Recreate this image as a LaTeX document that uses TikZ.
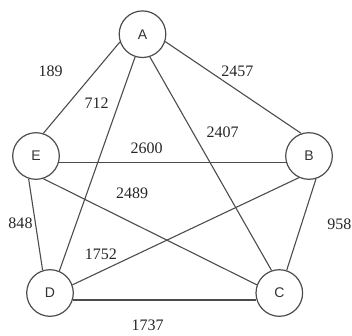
\documentclass[tikz,border=0pt]{standalone}
\usepackage{fontspec}
\setmainfont{Liberation Serif}
\newfontfamily\nodefont{Liberation Sans}
\begin{document}
\begin{tikzpicture}[x=1pt,y=-1pt,
  vertex/.style={circle,draw=black!70,line width=1.2pt,minimum size=46.6pt,inner sep=0pt,font=\nodefont\fontsize{14}{14}\selectfont,text=black!80},
  edge/.style={draw=black!70,line width=1.1pt},
  wlabel/.style={font=\fontsize{16}{16}\selectfont,text=black!85,inner sep=0pt}]
\useasboundingbox (0,0) rectangle (352,335);
\node[vertex] (A) at (142.5,34.2) {A};
\node[vertex] (E) at (36,156) {E};
\node[vertex] (B) at (309,156) {B};
\node[vertex] (D) at (50,293) {D};
\node[vertex] (C) at (279.3,293) {C};
\draw[edge] (A.199) -- (E.72);
\draw[edge] (A.252) -- (D.67);
\draw[edge] (A.288) -- (C.109);
\draw[edge] (A.342) -- (B.109);
\draw[edge] (E.-16) -- (B.196);
\draw[edge] (E.252) -- (D.108);
\draw[edge] (E.288) -- (C.160);
\draw[edge] (B.245) -- (D.20);
\draw[edge] (B.287) -- (C.72);
\draw[edge] (D.-17) -- (C.197);
\node[wlabel] (l189) at (50.7,71.7) {189};
\node[wlabel] (l712) at (96.7,103.3) {712};
\node[wlabel] (l2457) at (237.3,71.7) {2457};
\node[wlabel] (l2407) at (222.7,132.7) {2407};
\node[wlabel] (l2600) at (146.7,148.3) {2600};
\node[wlabel] (l2489) at (132,193.3) {2489};
\node[wlabel] (l848) at (20.5,223.3) {848};
\node[wlabel,anchor=east] (l958) at (351.5,224.3) {958};
\node[wlabel] (l1752) at (100.8,254.3) {1752};
\node[wlabel,anchor=base] (l1737) at (147.5,330.5) {1737};
\end{tikzpicture}
\end{document}
